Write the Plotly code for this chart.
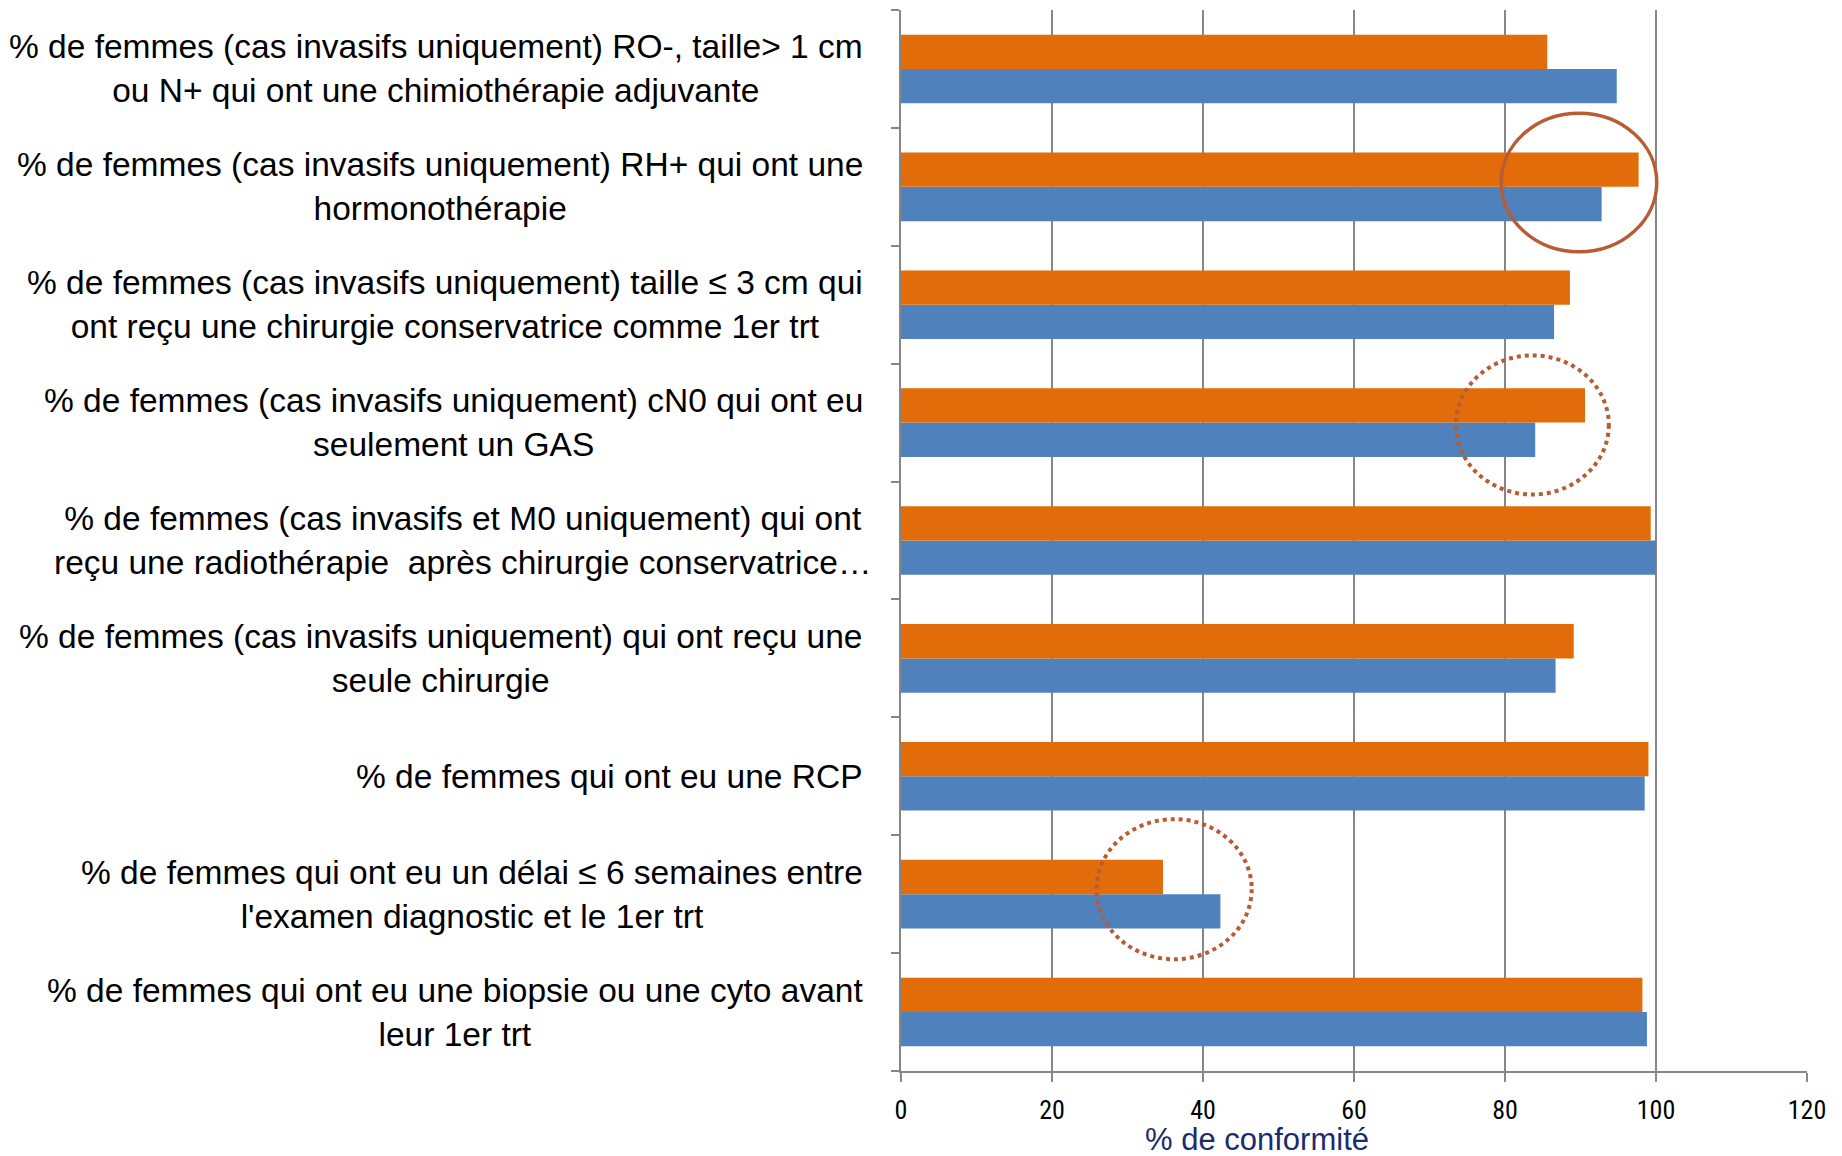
import plotly.graph_objects as go

# Categories listed from bottom to top
categories = [
    "% de femmes qui ont eu une biopsie ou une cyto avant<br>leur 1er trt",
    "% de femmes qui ont eu un délai ≤ 6 semaines entre<br>l'examen diagnostic et le 1er trt",
    "% de femmes qui ont eu une RCP",
    "% de femmes (cas invasifs uniquement) qui ont reçu une<br>seule chirurgie",
    "% de femmes (cas invasifs et M0 uniquement) qui ont<br>reçu une radiothérapie  après chirurgie conservatrice…",
    "% de femmes (cas invasifs uniquement) cN0 qui ont eu<br>seulement un GAS",
    "% de femmes (cas invasifs uniquement) taille ≤ 3 cm qui<br>ont reçu une chirurgie conservatrice comme 1er trt",
    "% de femmes (cas invasifs uniquement) RH+ qui ont une<br>hormonothérapie",
    "% de femmes (cas invasifs uniquement) RO-, taille> 1 cm<br>ou N+ qui ont une chimiothérapie adjuvante",
]
blue_values = [98.8, 42.3, 98.5, 86.7, 100.0, 84.0, 86.5, 92.8, 94.8]
orange_values = [98.2, 34.7, 99.0, 89.1, 99.3, 90.6, 88.6, 97.7, 85.6]
x_ticks = [0, 20, 40, 60, 80, 100, 120]
x_title = "% de conformité"

BLUE = "#4F81BD"
ORANGE = "#E36C0A"
GRID = "#868686"
CIRCLE = "#B95B33"
LABEL_FONT = "Liberation Sans, Arial, sans-serif"
TICK_FONT = "Liberation Sans Narrow, Roboto Condensed, Liberation Sans, sans-serif"

fig = go.Figure()
fig.add_trace(go.Bar(y=categories, x=blue_values, orientation="h",
                     marker=dict(color=BLUE, line=dict(width=0)), name="B"))
fig.add_trace(go.Bar(y=categories, x=orange_values, orientation="h",
                     marker=dict(color=ORANGE, line=dict(width=0)), name="A"))

# Category labels as centred multi-line annotations
for i, c in enumerate(categories):
    shift = -28 if "M0" in c else -36
    fig.add_annotation(x=0, xref="paper", y=c, yref="y", text=c, showarrow=False,
                       xanchor="right", yanchor="middle", align="center", xshift=shift,
                       font=dict(family=LABEL_FONT, size=33.5, color="#000000"))

fig.add_annotation(x=0.3925, xref="paper", y=-0.065, yref="paper", text=x_title,
                   showarrow=False, xanchor="center", yanchor="middle",
                   font=dict(family=LABEL_FONT, size=31, color="#1A2C6B"))

# Highlight ellipses
fig.add_shape(type="circle", xref="x", yref="y", x0=79.5, x1=100.1, y0=6.449, y1=7.625,
              line=dict(color=CIRCLE, width=3.5), layer="above")
fig.add_shape(type="circle", xref="x", yref="y", x0=73.5, x1=93.75, y0=4.39, y1=5.57,
              line=dict(color=CIRCLE, width=4, dash="dot"), layer="above")
fig.add_shape(type="circle", xref="x", yref="y", x0=25.9, x1=46.45, y0=0.448, y1=1.636,
              line=dict(color=CIRCLE, width=4, dash="dot"), layer="above")

fig.update_layout(
    width=1834, height=1148,
    margin=dict(l=893, r=35, t=2, b=85),
    paper_bgcolor="white", plot_bgcolor="white",
    barmode="group", bargap=0.418, bargroupgap=0,
    showlegend=False,
    xaxis=dict(range=[0, 120], tickvals=x_ticks, showgrid=True, gridcolor=GRID, gridwidth=1.5,
               zeroline=False, showline=True, linecolor=GRID, linewidth=2,
               ticks="outside", ticklen=9, tickcolor=GRID, tickwidth=1.5,
               ticklabelstandoff=6,
               tickfont=dict(family=TICK_FONT, size=26, color="#000000")),
    yaxis=dict(type="category", categoryorder="array", categoryarray=categories,
               range=[-0.5, 8.5], showticklabels=False, showgrid=False, zeroline=False,
               showline=True, linecolor=GRID, linewidth=1.5,
               ticks="outside", tickson="boundaries", ticklen=8, tickcolor=GRID, tickwidth=1.5),
)

fig.write_html("out.html")
